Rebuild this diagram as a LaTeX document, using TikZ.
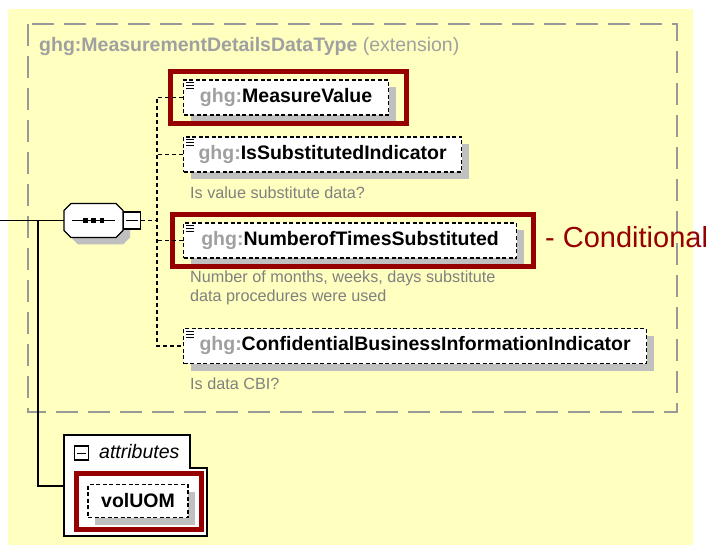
\documentclass[tikz,border=0pt]{standalone}
\usepackage{fontspec}
\setmainfont{Liberation Sans}
\usepackage{tikz}
\usetikzlibrary{shadows}
\usetikzlibrary{positioning}
\usepackage{xcolor}
\definecolor{ColBg}{RGB}{255,255,192}
\definecolor{ColRed}{RGB}{150,0,0}
\definecolor{ColGhg}{RGB}{160,160,160}
\definecolor{ColDesc}{RGB}{128,128,128}
\definecolor{ColShadow}{RGB}{192,192,192}
\definecolor{ColFrame}{RGB}{153,153,153}
\tikzstyle{BoxShadow}=[drop shadow={shadow xshift=7pt,shadow yshift=-7pt,fill=ColShadow,opacity=1}]
\tikzstyle{ElemBox}=[draw=black,fill=white,dash pattern=on 4pt off 2.5pt,line width=1.2pt,
minimum height=35pt,inner sep=0pt,anchor=west,BoxShadow,font=\fontsize{19.5}{23}\selectfont\bfseries]
\tikzstyle{SeqLine}=[draw=black,fill=white,line width=1.2pt]
\tikzstyle{MinusBox}=[draw=black,fill=white,line width=1.2pt,minimum size=17pt,inner sep=0pt]
\tikzstyle{SeqDot}=[fill=black,minimum size=4.5pt,inner sep=0pt]
\tikzstyle{DescText}=[anchor=west,inner sep=0pt,text=ColDesc,align=left,font=\fontsize{16.2}{19}\selectfont]
\tikzstyle{TypeFrame}=[ColFrame,line width=1.5pt,dash pattern=on 22pt off 10pt]
\tikzstyle{RedFrame}=[ColRed,line width=5pt]
\tikzstyle{TreeEdge}=[black,line width=1.2pt]
\tikzstyle{DashEdge}=[black,line width=1.2pt,dash pattern=on 4pt off 3pt]
\tikzstyle{IconLine}=[black,line width=0.8pt]

\begin{document}
\begin{tikzpicture}[x=1pt,y=-1pt]
        \useasboundingbox(0,0)rectangle(709,545);
        \fill[white](0,0)rectangle(709,545);
        \fill[ColBg](8,9)rectangle(693,545);
        % extension frame
        \draw[TypeFrame](28,24)rectangle(677,412);
        \node[anchor=west,inner sep=0pt,text=ColGhg,font=\fontsize{19.5}{23}\selectfont](title)at(39,47)
            {\textbf{ghg:MeasurementDetailsDataType} (extension)};
        % sequence
        \node[minimum width=59pt,minimum height=34pt,inner sep=0pt](seq)at(93.5,220.5){};
        \fill[ColShadow]([shift={(7,7)}]seq.center)++(-22.5,-17)--++(45,0)--++(7,7)--++(0,20)
            --++(-7,7)--++(-45,0)--++(-7,-7)--++(0,-20)--cycle;
        \draw[SeqLine](seq.center)++(-22.5,-17)--++(45,0)--++(7,7)--++(0,20)
            --++(-7,7)--++(-45,0)--++(-7,-7)--++(0,-20)--cycle;
        \node[MinusBox,anchor=west](seqm)at(seq.east){};
        \draw[line width=1.2pt]([xshift=8pt]seq.west)--([xshift=-8pt]seq.east);
        \node[SeqDot]at([xshift=-8pt]seq.center){};
        \node[SeqDot]at(seq.center){};
        \node[SeqDot]at([xshift=8.5pt]seq.center){};
        \draw[line width=1.2pt]([xshift=3pt]seqm.west)--([xshift=-3pt]seqm.east);
        % elements
        \node[ElemBox,minimum width=205pt](mv)at(183,97.5){\textcolor{ColGhg}{ghg:}MeasureValue};
        \node[ElemBox,minimum width=278pt](isi)at(183,154.5){\textcolor{ColGhg}{ghg:}IsSubstitutedIndicator};
        \node[ElemBox,minimum width=333pt](nts)at(183,240.5){\textcolor{ColGhg}{ghg:}NumberofTimesSubstituted};
        \node[ElemBox,minimum width=463pt](cbi)at(183,346){\textcolor{ColGhg}{ghg:}ConfidentialBusinessInformationIndicator};
        \draw[IconLine]([shift={(3,3)}]mv.north west)--++(8,0)++(-8,3)--++(8,0)++(-8,3)--++(8,0);
        \draw[IconLine]([shift={(3,3)}]isi.north west)--++(8,0)++(-8,3)--++(8,0)++(-8,3)--++(8,0);
        \draw[IconLine]([shift={(3,3)}]nts.north west)--++(8,0)++(-8,3)--++(8,0)++(-8,3)--++(8,0);
        \draw[IconLine]([shift={(3,3)}]cbi.north west)--++(8,0)++(-8,3)--++(8,0)++(-8,3)--++(8,0);
        \node[DescText](d1)at(190,193){Is value substitute data?};
        \node[DescText](d2)at(190,287.5){Number of months, weeks, days substitute\\data procedures were used};
        \node[DescText](d3)at(190,384){Is data CBI?};
        % highlights
        \draw[RedFrame]([xshift=-12.5pt,yshift=7.5pt]mv.north west)rectangle([xshift=17.5pt,yshift=-7.5pt]mv.south east);
        \draw[RedFrame]([xshift=-10.5pt,yshift=7.5pt]nts.north west)rectangle([xshift=16.5pt,yshift=-7.5pt]nts.south east);
        \node[anchor=base west,inner sep=0pt,text=ColRed,font=\fontsize{29}{34}\selectfont](cond)at(545,248){- Conditional};
        % connectors
        \coordinate(in)at(0,220.5);
        \coordinate(br)at(38,220.5);
        \coordinate(sp)at(157,220.5);
        \coordinate(attrW)at(64,486);
        \draw[TreeEdge](in)--(seq.west);
        \draw[TreeEdge](br)|-(attrW);
        \draw[DashEdge](seqm.east)--(sp);
        \draw[DashEdge](mv.west)--(mv.west-|sp)--(cbi.west-|sp)--(cbi.west);
        \draw[DashEdge](isi.west)--(isi.west-|sp);
        \draw[DashEdge](nts.west)--(nts.west-|sp);
        % attributes
        \draw[TreeEdge,fill=white](attrW)|-(190,435)--(190,468)-|(207,536)-|(attrW);
        \node[MinusBox,minimum size=14pt](am)at(81.5,453){};
        \draw[line width=1pt]([xshift=3pt]am.west)--([xshift=-3pt]am.east);
        \node[anchor=west,inner sep=0pt,font=\fontsize{19.5}{23}\selectfont\itshape](attr)at(99,452){attributes};
        \node[ElemBox,anchor=center,minimum width=100pt,minimum height=33pt](vol)at(138,501){volUOM};
        \draw[RedFrame]([xshift=-10.5pt,yshift=10pt]vol.north west)rectangle([xshift=12.5pt,yshift=-11.5pt]vol.south east);
    \end{tikzpicture}
\end{document}
